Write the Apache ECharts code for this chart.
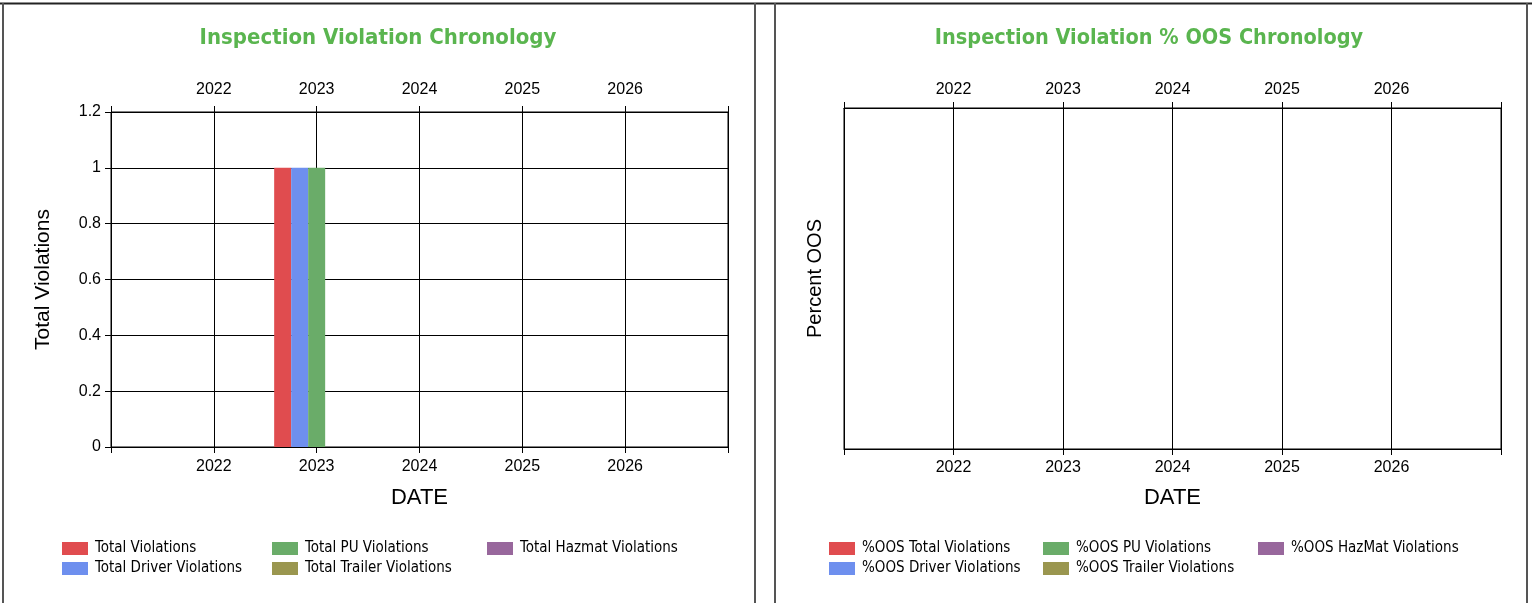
<!DOCTYPE html>
<html>
<head>
<meta charset="utf-8">
<script src="https://cdn.jsdelivr.net/npm/echarts@6/dist/echarts.min.js"></script>
<style>
html,body{margin:0;padding:0;background:#fff;}
#c{width:1532px;height:603px;}
</style>
</head>
<body>
<div id="c"></div>
<script>
// ---- data ----
const axisMinYear = 2021;
const axisMaxYear = 2027;
const tickYears = [2022, 2023, 2024, 2025, 2026];
const yTicks = [0, 0.2, 0.4, 0.6, 0.8, 1, 1.2];

const inspectionYears = [2023];
const totalViolations = [1];
const totalDriverViolations = [1];
const totalPUViolations = [1];
const totalTrailerViolations = [0];
const totalHazmatViolations = [0];

const oosYears = [];
const oosTotal = [];
const oosDriver = [];
const oosPU = [];
const oosTrailer = [];
const oosHazmat = [];

const leftNames = ['Total Violations', 'Total Driver Violations', 'Total PU Violations', 'Total Trailer Violations', 'Total Hazmat Violations'];
const rightNames = ['%OOS Total Violations', '%OOS Driver Violations', '%OOS PU Violations', '%OOS Trailer Violations', '%OOS HazMat Violations'];
const colors = ['#E04C4F', '#6E8FEE', '#6AAC69', '#9A964F', '#98679C'];

// ---- helpers ----
const AX_FONT = "'Liberation Sans', Arial, sans-serif";
const LEG_FONT = "'DejaVu Sans Condensed', Lato, sans-serif";
const pair = (xs, ys) => xs.map((x, i) => [x, ys[i]]);
const yearFmt = v => tickYears.includes(Math.round(v)) ? String(Math.round(v)) : '';

function xAxisDef(gridIndex, position, withSplit, margin, nameGap) {
  return {
    type: 'value', gridIndex, position,
    min: axisMinYear, max: axisMaxYear, interval: 1,
    axisLine: { show: true, onZero: false, lineStyle: { color: '#000', width: 1 } },
    axisTick: { show: true, length: 6, lineStyle: { color: '#000' } },
    axisLabel: { formatter: yearFmt, color: '#000', fontSize: 16, fontFamily: AX_FONT, margin },
    splitLine: { show: withSplit, lineStyle: { color: '#000', width: 1 } },
    name: position === 'bottom' ? 'DATE' : '',
    nameLocation: 'middle', nameGap: nameGap || 40,
    nameTextStyle: { fontSize: 22, color: '#000', fontFamily: AX_FONT }
  };
}

const leftData = [totalViolations, totalDriverViolations, totalPUViolations, totalTrailerViolations, totalHazmatViolations];
const rightData = [oosTotal, oosDriver, oosPU, oosTrailer, oosHazmat];

const series = [];
leftNames.forEach((n, i) => series.push({
  name: n, type: 'bar', xAxisIndex: 0, yAxisIndex: 0,
  data: pair(inspectionYears, leftData[i]),
  barWidth: 17, barGap: '0%',
  itemStyle: { color: colors[i] }
}));
rightNames.forEach((n, i) => series.push({
  name: n, type: 'bar', xAxisIndex: 2, yAxisIndex: 1,
  data: pair(oosYears, rightData[i]),
  barWidth: 17, barGap: '0%',
  itemStyle: { color: colors[i] }
}));

function legendDef(names, left) {
  return {
    data: names, orient: 'vertical', left, top: 541, padding: 0,
    itemWidth: 26, itemHeight: 13, itemGap: 5,
    icon: 'rect',
    textStyle: { fontSize: 15, color: '#000', fontFamily: LEG_FONT, padding: [0, 0, 0, 2] },
    selectedMode: false
  };
}

const titleStyle = { fontSize: 22, fontWeight: 'bold', color: '#5AB54F', fontFamily: LEG_FONT };

const option = {
  animation: false,
  backgroundColor: '#fff',
  title: [
    { text: 'Inspection Violation Chronology', left: 378, top: 27, padding: 0, textAlign: 'center', textStyle: titleStyle },
    { text: 'Inspection Violation % OOS Chronology', left: 1149, top: 27, padding: 0, textAlign: 'center', textStyle: Object.assign({}, titleStyle, { fontSize: 21.5 }) }
  ],
  grid: [
    { left: 111, top: 112, width: 617, height: 335, show: true, borderColor: '#000', borderWidth: 1, outerBoundsMode: 'none' },
    { left: 844, top: 108, width: 657, height: 341, show: true, borderColor: '#000', borderWidth: 1, outerBoundsMode: 'none' }
  ],
  xAxis: [
    xAxisDef(0, 'bottom', true, 12, 40),
    xAxisDef(0, 'top', false, 14),
    xAxisDef(1, 'bottom', true, 11, 38),
    xAxisDef(1, 'top', false, 10)
  ],
  yAxis: [
    {
      type: 'value', gridIndex: 0, min: yTicks[0], max: yTicks[yTicks.length - 1], interval: 0.2,
      axisLine: { show: true, lineStyle: { color: '#000' } },
      axisTick: { show: true, length: 6, lineStyle: { color: '#000' } },
      axisLabel: { color: '#000', fontSize: 16, fontFamily: AX_FONT, margin: 10 },
      splitLine: { show: true, lineStyle: { color: '#000', width: 1 } },
      name: 'Total Violations', nameLocation: 'middle', nameGap: 57, nameRotate: 90,
      nameTextStyle: { fontSize: 21, color: '#000', fontFamily: AX_FONT }
    },
    {
      type: 'value', gridIndex: 1, min: 0, max: 1,
      axisLine: { show: true, lineStyle: { color: '#000' } },
      axisTick: { show: false },
      axisLabel: { show: false },
      splitLine: { show: false },
      name: 'Percent OOS', nameLocation: 'middle', nameGap: 19, nameRotate: 90,
      nameTextStyle: { fontSize: 20, color: '#000', fontFamily: AX_FONT }
    }
  ],
  legend: [
    legendDef([leftNames[0], leftNames[1]], 62),
    legendDef([leftNames[2], leftNames[3]], 272),
    legendDef([leftNames[4]], 487),
    legendDef([rightNames[0], rightNames[1]], 829),
    legendDef([rightNames[2], rightNames[3]], 1043),
    legendDef([rightNames[4]], 1258)
  ],
  graphic: [
    { type: 'line', shape: { x1: 0, y1: 3.5, x2: 1532, y2: 3.5 }, style: { stroke: '#222', lineWidth: 2 } },
    { type: 'line', shape: { x1: 3, y1: 3, x2: 3, y2: 603 }, style: { stroke: '#555', lineWidth: 2 } },
    { type: 'line', shape: { x1: 755, y1: 3, x2: 755, y2: 603 }, style: { stroke: '#555', lineWidth: 2 } },
    { type: 'line', shape: { x1: 775, y1: 3, x2: 775, y2: 603 }, style: { stroke: '#555', lineWidth: 2 } },
    { type: 'line', shape: { x1: 1527, y1: 3, x2: 1527, y2: 603 }, style: { stroke: '#555', lineWidth: 2 } }
  ],
  series
};

const chart = echarts.init(document.getElementById('c'), null, { renderer: 'canvas' });
chart.setOption(option);
</script>
</body>
</html>
